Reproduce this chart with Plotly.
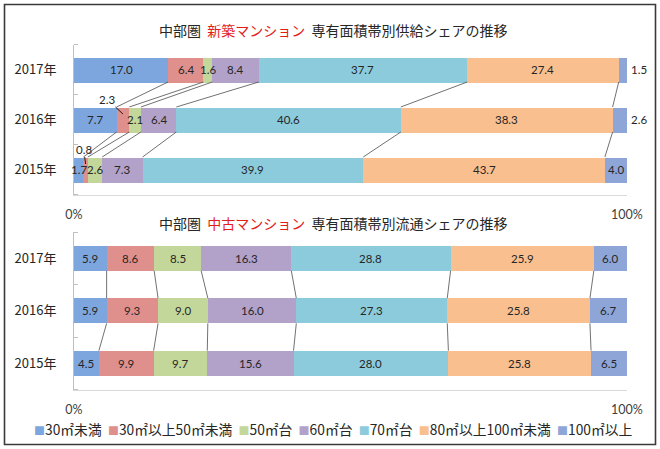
import plotly.graph_objects as go

# ---------------- data ----------------
years = ["2015年", "2016年", "2017年"]          # bottom -> top
year_pos = [0, 1, 2]
categories = ["30㎡未満", "30㎡以上50㎡未満", "50㎡台", "60㎡台",
              "70㎡台", "80㎡以上100㎡未満", "100㎡以上"]
colors = ["#7ea6de", "#e0908c", "#c4d79b", "#b2a1c8",
          "#8ccbdc", "#f9bf8f", "#8ea5d8"]

new_2015 = [1.7, 0.8, 2.6, 7.3, 39.9, 43.7, 4.0]
new_2016 = [7.7, 2.3, 2.1, 6.4, 40.6, 38.3, 2.6]
new_2017 = [17.0, 6.4, 1.6, 8.4, 37.7, 27.4, 1.5]

used_2015 = [4.5, 9.9, 9.7, 15.6, 28.0, 25.8, 6.5]
used_2016 = [5.9, 9.3, 9.0, 16.0, 27.3, 25.8, 6.7]
used_2017 = [5.9, 8.6, 8.5, 16.3, 28.8, 25.9, 6.0]

x_tickvals = [0, 100]
x_ticktext = ["0%", "100%"]

title_new = ("中部圏  <span style='color:#e31c1c'>新築マンション</span>"
             "  専有面積帯別供給シェアの推移")
title_used = ("中部圏  <span style='color:#e31c1c'>中古マンション</span>"
              "  専有面積帯別流通シェアの推移")

# label styling (which labels sit outside / on leader lines)
new_outside = [(2, 6), (1, 6)]
new_leaders = {(1, 1): (-16, -15), (0, 1): (-2, -15)}
used_outside = []
used_leaders = {}

W, H = 660, 449
LABEL_FONT = dict(family="Lato, Liberation Sans, sans-serif", size=11.5, color="#262626")
CJK = "Noto Sans CJK JP"

fig = go.Figure()
annotations = []


def add_chart(rows, xa, ya, width, outside, leaders):
    xref = "x" if xa == "xaxis" else "x2"
    yref = "y" if ya == "yaxis" else "y2"
    for k, cat in enumerate(categories):
        fig.add_trace(go.Bar(
            y=year_pos, x=[r[k] for r in rows], orientation="h",
            name=cat, marker=dict(color=colors[k], line=dict(width=0)),
            width=width, xaxis=xref, yaxis=yref, showlegend=False,
            hoverinfo="skip"))
    cums = []
    for r in rows:
        c, acc = [], 0.0
        for v in r:
            acc += v
            c.append(acc)
        cums.append(c)
    lx, ly = [], []
    for i in range(len(rows) - 1):
        lo, up = i, i + 1
        for k in range(len(categories) - 1):
            lx += [cums[up][k], cums[lo][k], None]
            ly += [year_pos[up] - width / 2, year_pos[lo] + width / 2, None]
    fig.add_trace(go.Scatter(x=lx, y=ly, mode="lines",
                             line=dict(color="#4d4d4d", width=0.8),
                             xaxis=xref, yaxis=yref, showlegend=False,
                             hoverinfo="skip"))
    for i, r in enumerate(rows):
        for k, v in enumerate(r):
            txt = f"{v:.1f}"
            xc = cums[i][k] - v / 2
            if (i, k) in outside:
                annotations.append(dict(x=cums[i][k], y=year_pos[i], xref=xref, yref=yref,
                                        text=txt, showarrow=False, xanchor="left",
                                        xshift=2, font=LABEL_FONT))
            elif (i, k) in leaders:
                ax, ay = leaders[(i, k)]
                annotations.append(dict(x=xc, y=year_pos[i] + width / 2 - 0.14,
                                        xref=xref, yref=yref, text=txt,
                                        showarrow=True, arrowhead=0, arrowwidth=1,
                                        arrowcolor="#1a1a1a", ax=ax, ay=ay,
                                        standoff=0, font=LABEL_FONT))
            else:
                annotations.append(dict(x=xc, y=year_pos[i], xref=xref, yref=yref,
                                        text=txt, showarrow=False, font=LABEL_FONT))


add_chart([new_2015, new_2016, new_2017], "xaxis", "yaxis", 0.5,
          new_outside, new_leaders)
add_chart([used_2015, used_2016, used_2017], "xaxis2", "yaxis2", 0.48,
          used_outside, used_leaders)

xdom = [74 / W, 627 / W]
top_dom = [1 - 194.5 / H, 1 - 44.5 / H]
bot_dom = [1 - 389.5 / H, 1 - 232 / H]


def xaxis_cfg(anchor, standoff):
    return dict(domain=xdom, range=[0, 100], anchor=anchor, automargin=False,
                tickmode="array", tickvals=x_tickvals, ticktext=x_ticktext,
                ticks="", showline=True, linecolor="#d9d9d9", linewidth=1,
                showgrid=True, gridcolor="#d9d9d9", gridwidth=1, zeroline=False,
                tickfont=dict(family="Lato, sans-serif", size=12.5, color="#404040"),
                ticklabelstandoff=standoff, fixedrange=True)


def yaxis_cfg(anchor, dom):
    return dict(domain=dom, range=[-0.5, 2.5], anchor=anchor, automargin=False,
                tickmode="array", tickvals=year_pos, ticktext=years,
                ticks="", showline=True, linecolor="#bfbfbf", linewidth=1,
                showgrid=False, zeroline=False,
                minor=dict(tickmode="array", tickvals=[-0.5, 0.5, 1.5, 2.5],
                           ticks="inside", ticklen=4, tickcolor="#bfbfbf",
                           showgrid=False),
                tickfont=dict(family=CJK, size=13, color="#262626"),
                ticklabelstandoff=14, fixedrange=True)


annotations.append(dict(x=333 / W, y=1 - 30 / H, xref="paper", yref="paper",
                        yanchor="middle", text=title_new, showarrow=False,
                        font=dict(family=CJK, size=14, color="#262626")))
annotations.append(dict(x=333 / W, y=1 - 223 / H, xref="paper", yref="paper",
                        yanchor="middle", text=title_used, showarrow=False,
                        font=dict(family=CJK, size=14, color="#262626")))

leg_parts = []
for cat, col in zip(categories, colors):
    leg_parts.append(f"<span style='color:{col};font-size:11px'>■</span>{cat}")
annotations.append(dict(x=333 / W, y=1 - 429 / H, xref="paper", yref="paper",
                        yanchor="middle", text="  ".join(leg_parts), showarrow=False,
                        font=dict(family=CJK, size=13.8, color="#262626")))

fig.update_layout(
    template="none",
    width=W, height=H, autosize=False,
    margin=dict(l=0, r=0, t=0, b=0, pad=0, autoexpand=False),
    paper_bgcolor="white", plot_bgcolor="white",
    barmode="stack", bargap=0,
    font=dict(family=CJK, size=12, color="#262626"),
    xaxis=xaxis_cfg("y", 8), yaxis=yaxis_cfg("x", top_dom),
    xaxis2=xaxis_cfg("y2", 8), yaxis2=yaxis_cfg("x2", bot_dom),
    annotations=annotations,
    shapes=[dict(type="rect", xref="paper", yref="paper",
                 x0=4.5 / W, x1=655.5 / W, y0=1 - 444.5 / H, y1=1 - 4.5 / H,
                 line=dict(color="#3a3a3a", width=1.6))],
    showlegend=False,
)

fig.write_html("out.html")
